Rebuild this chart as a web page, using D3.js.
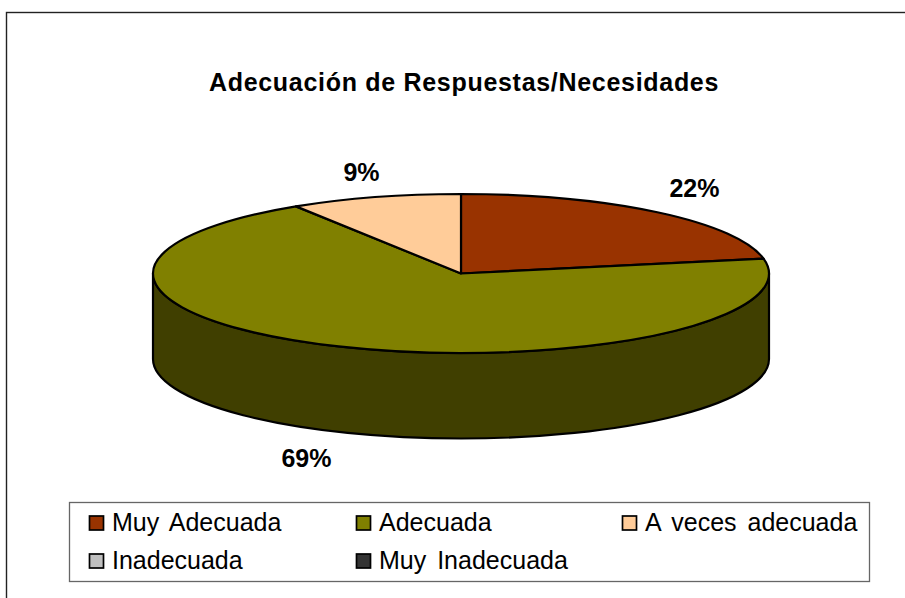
<!DOCTYPE html>
<html>
<head>
<meta charset="utf-8">
<script src="https://cdn.jsdelivr.net/npm/d3@7"></script>
<style>
  html, body { margin: 0; padding: 0; background: white; overflow: hidden; }
  svg { display: block; font-family: "Liberation Sans", Arial, sans-serif; }
</style>
</head>
<body>
<div id="container"></div>
<script>
/* DATA */
const categories = ["Muy Adecuada", "Adecuada", "A veces adecuada", "Inadecuada", "Muy Inadecuada"];
const values = [22, 69, 9, 0, 0];
const labels = ["22%", "69%", "9%"];
const colors = ["#993300", "#808000", "#FFCC99", "#C0C0C0", "#333333"];
const sideColors = ["#4d1a00", "#403F00", "#806650", "#606060", "#1a1a1a"];

/* CONSTANTS */
const width = 905, height = 598;
const cx = 461, cy = 273.5, rx = 308, ry = 79.5, depth = 85.5;

const svg = d3.select("#container")
  .append("svg")
  .attr("width", width)
  .attr("height", height);

// chart frame
svg.append("rect")
  .attr("x", 6.5).attr("y", 12.5)
  .attr("width", 904).attr("height", 600)
  .attr("fill", "white")
  .attr("stroke", "#222")
  .attr("stroke-width", 1.4);

svg.append("text")
  .attr("x", 464).attr("y", 91)
  .attr("text-anchor", "middle")
  .attr("font-size", 25)
  .attr("font-weight", "bold")
  .attr("letter-spacing", 0.7)
  .text("Adecuación de Respuestas/Necesidades");

/* PIE */
const pie = d3.pie().sort(null).value(d => d);
const slices = pie(values);
const arc = d3.arc().innerRadius(0).outerRadius(rx);
const px = a => cx + rx * Math.sin(a);
const py = a => cy - ry * Math.cos(a);

// side wall, only the part of each slice that faces the front
const wall = svg.append("g");
slices.forEach((s, i) => {
  const a0 = Math.max(s.startAngle, Math.PI / 2);
  const a1 = Math.min(s.endAngle, Math.PI * 3 / 2);
  if (a1 <= a0) return;
  wall.append("path")
    .attr("d", `M${px(a0)},${py(a0)}
      A${rx},${ry} 0 0 1 ${px(a1)},${py(a1)}
      L${px(a1)},${py(a1) + depth}
      A${rx},${ry} 0 0 0 ${px(a0)},${py(a0) + depth}Z`)
    .attr("fill", sideColors[i])
    .attr("stroke", "black")
    .attr("stroke-width", 2.2)
    .attr("stroke-linejoin", "round");
});

// top face: flat arc squashed into an ellipse
svg.append("g")
  .attr("transform", `translate(${cx},${cy}) scale(1,${ry / rx})`)
  .selectAll("path")
  .data(slices.filter(d => d.value > 0))
  .join("path")
  .attr("d", arc)
  .attr("fill", d => colors[d.index])
  .attr("stroke", "black")
  .attr("stroke-width", 2.2)
  .attr("stroke-linejoin", "round")
  .attr("vector-effect", "non-scaling-stroke");

// percent labels
const labelPos = [[694.5, 197], [306.5, 467], [361.5, 181]];
svg.selectAll("text.pct")
  .data(labels)
  .join("text")
  .attr("class", "pct")
  .attr("x", (d, i) => labelPos[i][0])
  .attr("y", (d, i) => labelPos[i][1])
  .attr("text-anchor", "middle")
  .attr("font-size", 25)
  .attr("font-weight", "bold")
  .text(d => d);

/* LEGEND */
svg.append("rect")
  .attr("x", 69.5).attr("y", 502.5)
  .attr("width", 800).attr("height", 79)
  .attr("fill", "white")
  .attr("stroke", "#666")
  .attr("stroke-width", 1.3);

const legendX = [89, 356, 622];
const legendY = [523, 561];
const legend = svg.selectAll("g.item")
  .data(categories)
  .join("g")
  .attr("class", "item")
  .attr("transform", (d, i) => `translate(${legendX[i % 3]},${legendY[Math.floor(i / 3)]})`);

legend.append("rect")
  .attr("x", 0.5).attr("y", -7)
  .attr("width", 14).attr("height", 14)
  .attr("fill", (d, i) => colors[i])
  .attr("stroke", "black")
  .attr("stroke-width", 1.7);

legend.append("text")
  .attr("x", 23).attr("y", 7.5)
  .attr("font-size", 25)
  .attr("word-spacing", 4)
  .text(d => d);
</script>
</body>
</html>
